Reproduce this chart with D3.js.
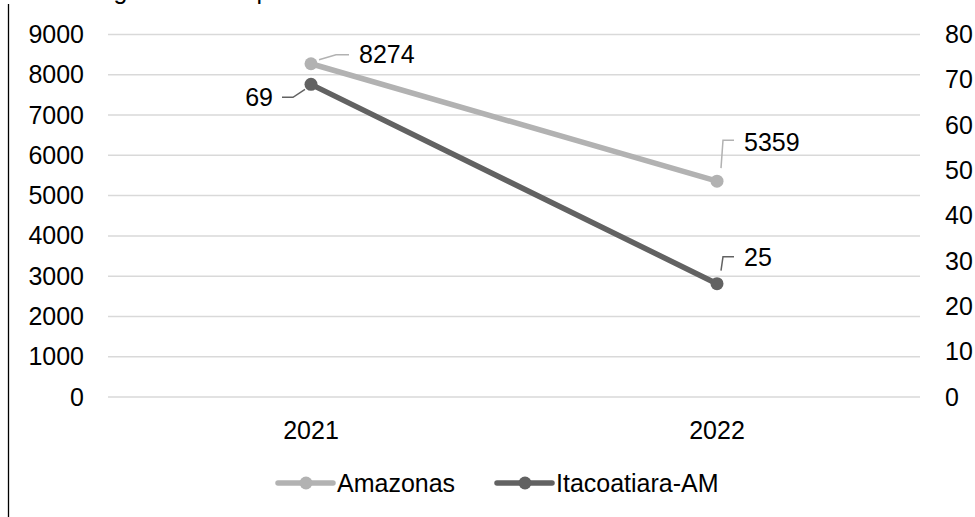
<!DOCTYPE html>
<html>
<head>
<meta charset="utf-8">
<script src="https://cdn.jsdelivr.net/npm/d3@7"></script>
<style>
  body { margin: 0; background: #fff; }
  svg { display: block; font-family: "Liberation Sans", Arial, sans-serif; }
</style>
</head>
<body>
<div id="chart-area"></div>
<script>
  const years = ['2021', '2022'];
  const amazonas = [8274, 5359];
  const itacoatiara = [69, 25];
  const leftTicks = [0, 1000, 2000, 3000, 4000, 5000, 6000, 7000, 8000, 9000];
  const rightTicks = [0, 10, 20, 30, 40, 50, 60, 70, 80];

  const widthSvg = 975;
  const heightSvg = 517;
  const margin = { top: 34.5, right: 55, bottom: 120, left: 108 };
  const widthChart = widthSvg - margin.left - margin.right;
  const heightChart = 397 - margin.top;

  const colorAm = '#b2b2b2';
  const colorIt = '#626262';
  const fontSize = '25px';

  const svg = d3.select('#chart-area').append('svg')
    .attr('width', widthSvg)
    .attr('height', heightSvg);

  // title, cut off by the top edge as in the source, and the left border
  svg.append('text')
    .attr('x', 12)
    .attr('y', -1)
    .attr('font-size', fontSize)
    .attr('fill', '#000')
    .text('Óbitos registrados no período de 2021 a 2022');

  svg.append('line')
    .attr('x1', 8.5).attr('x2', 8.5)
    .attr('y1', 4).attr('y2', heightSvg)
    .attr('stroke', '#000')
    .attr('stroke-width', 1.3);

  const chart = svg.append('g')
    .attr('transform', `translate(${margin.left}, ${margin.top})`);

  const scaleX = d3.scaleBand()
    .domain(years)
    .range([0, widthChart]);

  const scaleYL = d3.scaleLinear()
    .domain([0, 9000])
    .range([heightChart, 0]);

  const scaleYR = d3.scaleLinear()
    .domain([0, 80])
    .range([heightChart, 0]);

  // gridlines
  chart.append('g')
    .selectAll('line')
    .data(leftTicks)
    .enter().append('line')
      .attr('x1', 0)
      .attr('x2', widthChart)
      .attr('y1', d => scaleYL(d))
      .attr('y2', d => scaleYL(d))
      .attr('stroke', '#d9d9d9')
      .attr('stroke-width', 1.5);

  const axisYL = chart.append('g')
    .call(d3.axisLeft(scaleYL).tickValues(leftTicks).tickFormat(d3.format('d'))
      .tickSize(0).tickPadding(24));

  const axisYR = chart.append('g')
    .attr('transform', `translate(${widthChart}, 0)`)
    .call(d3.axisRight(scaleYR).tickValues(rightTicks).tickFormat(d3.format('d'))
      .tickSize(0).tickPadding(25));

  const axisX = chart.append('g')
    .attr('transform', `translate(0, ${heightChart})`)
    .call(d3.axisBottom(scaleX).tickSize(0).tickPadding(24));

  [axisYL, axisYR, axisX].forEach(g => {
    g.select('.domain').remove();
    g.selectAll('text')
      .attr('font-size', fontSize)
      .attr('font-family', '"Liberation Sans", Arial, sans-serif')
      .attr('fill', '#000');
  });

  const cx = d => scaleX(d) + scaleX.bandwidth() / 2;

  const series = [
    { name: 'Amazonas', values: amazonas, scale: scaleYL, color: colorAm },
    { name: 'Itacoatiara-AM', values: itacoatiara, scale: scaleYR, color: colorIt },
  ];

  series.forEach(s => {
    const pts = years.map((y, i) => [cx(y), s.scale(s.values[i])]);
    chart.append('path')
      .attr('d', d3.line()(pts))
      .attr('fill', 'none')
      .attr('stroke', s.color)
      .attr('stroke-width', 5.5)
      .attr('stroke-linecap', 'round');
    chart.selectAll(null)
      .data(pts)
      .enter().append('circle')
        .attr('cx', d => d[0])
        .attr('cy', d => d[1])
        .attr('r', 6.5)
        .attr('fill', s.color);
  });

  // data labels with leader lines (offsets relative to the point)
  const labels = [
    { s: 0, i: 0, path: [[8, -4], [25, -9], [38, -9]], tx: 48, ty: -9, anchor: 'start' },
    { s: 1, i: 0, path: [[-6, 5], [-18, 13], [-29, 13]], tx: -38, ty: 13, anchor: 'end' },
    { s: 0, i: 1, path: [[4, -13], [6, -41], [17, -41]], tx: 27, ty: -39, anchor: 'start' },
    { s: 1, i: 1, path: [[4, -13], [6, -27], [17, -27]], tx: 27, ty: -26, anchor: 'start' },
  ];

  labels.forEach(l => {
    const s = series[l.s];
    const x0 = cx(years[l.i]);
    const y0 = s.scale(s.values[l.i]);
    chart.append('path')
      .attr('d', d3.line()(l.path.map(p => [x0 + p[0], y0 + p[1]])))
      .attr('fill', 'none')
      .attr('stroke', s.color)
      .attr('stroke-width', 1.5);
    chart.append('text')
      .attr('x', x0 + l.tx)
      .attr('y', y0 + l.ty)
      .attr('dy', '0.35em')
      .attr('text-anchor', l.anchor)
      .attr('font-size', fontSize)
      .attr('fill', '#000')
      .text(s.values[l.i]);
  });

  // legend
  const legendY = 483;
  const legendItems = [
    { x: 278, s: series[0] },
    { x: 497, s: series[1] },
  ];
  legendItems.forEach(item => {
    const g = svg.append('g').attr('transform', `translate(${item.x}, ${legendY})`);
    g.append('line')
      .attr('x1', 0).attr('x2', 55)
      .attr('y1', 0).attr('y2', 0)
      .attr('stroke', item.s.color)
      .attr('stroke-width', 5.5)
      .attr('stroke-linecap', 'round');
    g.append('circle')
      .attr('cx', 28).attr('cy', 0).attr('r', 6.5)
      .attr('fill', item.s.color);
    g.append('text')
      .attr('x', 59)
      .attr('dy', '0.35em')
      .attr('font-size', fontSize)
      .attr('fill', '#000')
      .text(item.s.name);
  });
</script>
</body>
</html>
